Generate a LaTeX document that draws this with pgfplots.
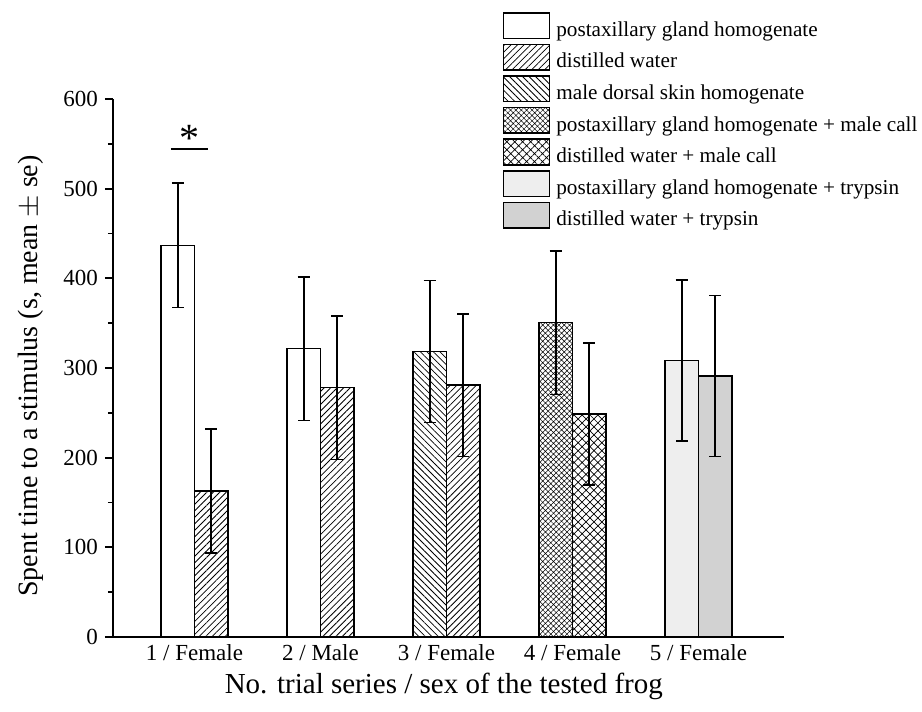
\documentclass[border=0pt]{standalone}
\usepackage{fontspec}
\setmainfont{Liberation Serif}
\usepackage{pgfplots}
\pgfplotsset{compat=1.18}
\usetikzlibrary{patterns,patterns.meta}
\definecolor{lightfill}{HTML}{EEEEEE}
\definecolor{darkfill}{HTML}{D2D2D2}
\begin{document}
\begin{tikzpicture}
\begin{axis}[
  scale only axis,
  width=335.5pt, height=269pt,
  xmin=0.353, xmax=5.679,
  ymin=0, ymax=600,
  axis x line*=bottom, axis y line*=left,
  axis line style={line width=1pt, black},
  xtick={1,2,3,4,5},
  xticklabels={1 / Female, 2 / Male, 3 / Female, 4 / Female, 5 / Female},
  x tick style={draw=none},
  ytick={0,100,...,600},
  minor y tick num=1,
  tick align=outside,
  major tick length=4pt, minor tick length=2.5pt,
  y tick style={line width=0.9pt, black},
  /pgf/number format/assume math mode=true,
  tick label style={font=\fontsize{11.5}{13}\selectfont},
  xticklabel style={yshift=4pt},
  xlabel={No. trial series / sex of the tested frog},
  ylabel={Spent time to a stimulus (s, mean $\pm$ se)},
  xlabel style={font=\fontsize{14.5}{16}\selectfont, at={(axis description cs:0.493,-0.091)}, anchor=center},
  ylabel style={font=\fontsize{14}{16}\selectfont, at={(axis description cs:-0.122,0.485)}, anchor=center},
  every axis plot/.append style={ybar, bar width=0.266, bar shift=0pt, draw=black, line width=0.75pt},
  error bars/y dir=both, error bars/y explicit,
  error bars/error bar style={line width=0.8pt, black},
  error bars/error mark options={rotate=90, line width=0.8pt, mark size=3pt, black},
  legend image code/.code={\draw[#1, line width=0.75pt] (0pt,-4pt) rectangle (23pt,8.8pt);},
  legend style={at={(0.581,1.1617)}, anchor=north west, draw=none, fill=none,
    inner sep=0pt, outer sep=0pt, row sep=2.2pt,
    nodes={inner sep=0pt},
    font=\fontsize{10.6}{12}\selectfont,
    /tikz/every odd column/.append style={column sep=3pt}},
  legend cell align=left,
]
\addplot[fill=white] coordinates {(0.867,436.8) +- (0,69.5) (1.867,321.5) +- (0,80)};
\addlegendentry{postaxillary gland homogenate}
\addplot[pattern={Lines[angle=45,distance=2.3pt,line width=0.4pt]}, pattern color=black] coordinates {(1.133,163) +- (0,69.3) (2.133,278) +- (0,80) (3.133,281) +- (0,79.5)};
\addlegendentry{distilled water}
\addplot[pattern={Lines[angle=-45,distance=2.3pt,line width=0.4pt]}, pattern color=black] coordinates {(2.867,318.6) +- (0,79.2)};
\addlegendentry{male dorsal skin homogenate}
\addplot[pattern={Hatch[angle=45,distance=1.9pt,line width=0.25pt]}, pattern color=black] coordinates {(3.867,350.5) +- (0,80)};
\addlegendentry{postaxillary gland homogenate + male call}
\addplot[pattern={Hatch[angle=45,distance=2.8pt,line width=0.35pt]}, pattern color=black] coordinates {(4.133,248.7) +- (0,79.5)};
\addlegendentry{distilled water + male call}
\addplot[fill=lightfill] coordinates {(4.867,308.3) +- (0,89.9)};
\addlegendentry{postaxillary gland homogenate + trypsin}
\addplot[fill=darkfill] coordinates {(5.133,291) +- (0,89.8)};
\addlegendentry{distilled water + trypsin}
\draw[line width=1pt] (axis cs:0.812,544) -- (axis cs:1.109,544);
\node[font=\fontsize{20}{22}\selectfont, inner sep=0pt] at (axis cs:0.96,556) {*};
\coordinate (BL) at (rel axis cs:0,0);
\end{axis}
\path[use as bounding box] ([shift={(-56.5pt,-37.5pt)}]BL) rectangle ([shift={(404.5pt,318.5pt)}]BL);
\end{tikzpicture}
\end{document}
